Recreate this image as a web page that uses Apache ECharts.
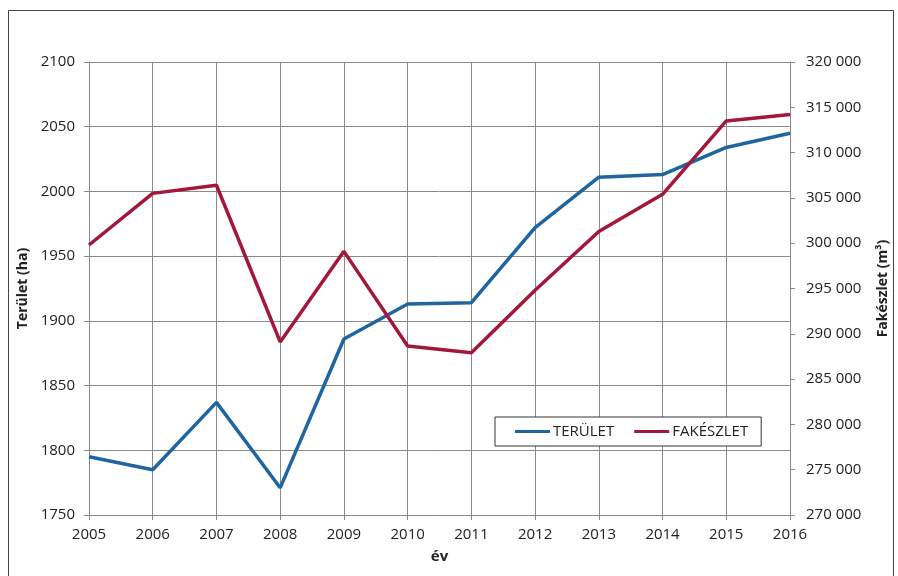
<!DOCTYPE html>
<html><head><meta charset="utf-8">
<script src="https://cdn.jsdelivr.net/npm/echarts@6/dist/echarts.min.js"></script>
<style>html,body{margin:0;padding:0;background:#fff;}#c{width:898px;height:576px;}</style>
</head><body><div id="c"></div>
<script>
const years = ['2005','2006','2007','2008','2009','2010','2011','2012','2013','2014','2015','2016'];
const terulet = [1795, 1785, 1837, 1771, 1886, 1913, 1914, 1972, 2011, 2013, 2034, 2045];
const fakeszlet = [299800, 305500, 306400, 289100, 299100, 288650, 287900, 294800, 301300, 305400, 313500, 314200];
const seriesNames = ['TERÜLET', 'FAKÉSZLET'];

const font = 'Open Sans';
const txt = '#222';
const chart = echarts.init(document.getElementById('c'), null, {renderer: 'canvas'});
chart.setOption({
  animation: false,
  backgroundColor: '#fff',
  textStyle: {fontFamily: font},
  graphic: [{type: 'rect', shape: {x: 8.5, y: 10.5, width: 885, height: 600}, style: {fill: 'none', stroke: '#444', lineWidth: 1}, silent: true}],
  grid: {left: 89, right: 105, top: 62, bottom: 61},
  legend: {
    data: seriesNames,
    left: 495, top: 417,
    orient: 'horizontal',
    icon: 'rect', itemWidth: 35, itemHeight: 3, itemGap: 20,
    padding: [7, 13, 7, 20],
    borderColor: '#333', borderWidth: 1, backgroundColor: '#fff',
    textStyle: {fontFamily: font, fontSize: 15, color: txt, padding: [0, 0, 0, -2]}
  },
  xAxis: {
    type: 'category', data: years, boundaryGap: false,
    name: 'év', nameLocation: 'middle', nameGap: 34,
    nameTextStyle: {fontFamily: font, fontSize: 15, fontWeight: 'bold', color: txt},
    axisLine: {lineStyle: {color: '#888', width: 1}},
    axisTick: {show: true, length: 5, lineStyle: {color: '#888'}},
    axisLabel: {fontFamily: font, fontSize: 15, color: txt, margin: 12},
    splitLine: {show: true, lineStyle: {color: '#8a8a8a', width: 1}}
  },
  yAxis: [{
    type: 'value', min: 1750, max: 2100, interval: 50, position: 'left',
    name: 'Terület (ha)', nameLocation: 'middle', nameGap: 58, nameRotate: 90,
    nameTextStyle: {fontFamily: font, fontSize: 14, fontWeight: 'bold', color: txt},
    axisLine: {show: true, lineStyle: {color: '#888', width: 1}},
    axisTick: {show: true, length: 5, lineStyle: {color: '#888'}},
    axisLabel: {fontFamily: font, fontSize: 15, color: txt, margin: 14, formatter: v => String(v)},
    splitLine: {show: true, lineStyle: {color: '#8a8a8a', width: 1}}
  }, {
    type: 'value', min: 270000, max: 320000, interval: 5000, position: 'right',
    name: 'Fakészlet (m³)', nameLocation: 'middle', nameGap: 86, nameRotate: 90,
    nameTextStyle: {fontFamily: font, fontSize: 14, fontWeight: 'bold', color: txt},
    axisLine: {show: true, lineStyle: {color: '#888', width: 1}},
    axisTick: {show: true, length: 5, lineStyle: {color: '#888'}},
    axisLabel: {fontFamily: font, fontSize: 15, color: txt, margin: 16,
      formatter: v => String(v).replace(/\B(?=(\d{3})+(?!\d))/g, ' ')},
    splitLine: {show: false}
  }],
  series: [{
    name: seriesNames[0], type: 'line', data: terulet, yAxisIndex: 0,
    symbol: 'none', lineStyle: {color: '#1f65a0', width: 3.5}, itemStyle: {color: '#1f65a0'}
  }, {
    name: seriesNames[1], type: 'line', data: fakeszlet, yAxisIndex: 1,
    symbol: 'none', lineStyle: {color: '#a3173a', width: 3.5}, itemStyle: {color: '#a3173a'}
  }]
});
</script></body></html>
